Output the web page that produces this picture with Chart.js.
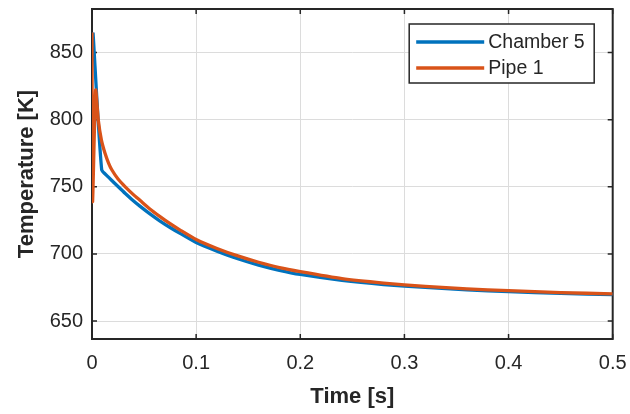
<!DOCTYPE html>
<html>
<head>
<meta charset="utf-8">
<script src="https://cdn.jsdelivr.net/npm/chart.js@4.4.0/dist/chart.umd.min.js"></script>
<style>
  html, body { margin: 0; padding: 0; background: #fff; }
  #wrap { width: 630px; height: 414px; }
</style>
</head>
<body>
<div id="wrap"><canvas id="tempChart" width="630" height="414"></canvas></div>
<script>
// data
const chamberTime = [0.001, 0.0093, 0.015, 0.02, 0.025, 0.032, 0.038, 0.046, 0.055, 0.065, 0.075, 0.085, 0.1, 0.12, 0.14, 0.16, 0.18, 0.2, 0.24, 0.28, 0.32, 0.36, 0.4, 0.45, 0.5];
const chamberTemp = [865, 762.7, 757.8, 754, 750.2, 745, 740.8, 735.6, 730.2, 724.7, 719.7, 715.1, 708.5, 702.1, 696.4, 691.7, 687.8, 684.7, 680.3, 677.2, 675, 673.2, 671.9, 670.6, 669.7];

const pipeTime = [0, 0.0005, 0.0035, 0.006, 0.009, 0.0125, 0.016, 0.019, 0.025, 0.0317, 0.04, 0.046, 0.055, 0.065, 0.075, 0.085, 0.1, 0.12, 0.14, 0.16, 0.18, 0.2, 0.24, 0.28, 0.32, 0.36, 0.4, 0.45, 0.5];
const pipeTemp = [865, 739, 822, 800, 785, 775, 767.5, 762.7, 755.8, 750.2, 744, 740, 733.9, 728, 722.5, 717.6, 710.8, 704.1, 698.5, 693.8, 689.8, 686.8, 681.6, 678.3, 675.8, 674, 672.6, 671.2, 670.2];

const xTicks = [0, 0.1, 0.2, 0.3, 0.4, 0.5];
const yTicks = [650, 700, 750, 800, 850];

const textColor = '#262626';
const fontFamily = '"Liberation Sans", Arial, sans-serif';

function toPoints(xs, ys) {
    return xs.map((x, i) => ({ x: x, y: ys[i] }));
}

// MATLAB style box, inward ticks and boxed legend
const matlabAxes = {
    id: 'matlabAxes',
    beforeDatasetsDraw(chart) {
        const ctx = chart.ctx;
        const a = chart.chartArea;
        const xs = chart.scales.x, ys = chart.scales.y;
        ctx.save();
        ctx.strokeStyle = textColor;
        ctx.lineWidth = 2;
        ctx.strokeRect(a.left, a.top, a.right - a.left, a.bottom - a.top);
        ctx.lineWidth = 1.5;
        ctx.beginPath();
        xs.ticks.forEach(t => {
            const px = xs.getPixelForValue(t.value);
            ctx.moveTo(px, a.bottom); ctx.lineTo(px, a.bottom - 5);
            ctx.moveTo(px, a.top); ctx.lineTo(px, a.top + 5);
        });
        ys.ticks.forEach(t => {
            const py = ys.getPixelForValue(t.value);
            ctx.moveTo(a.left, py); ctx.lineTo(a.left + 5, py);
            ctx.moveTo(a.right, py); ctx.lineTo(a.right - 5, py);
        });
        ctx.stroke();
        ctx.restore();
    },
    afterDatasetsDraw(chart) {
        const ctx = chart.ctx;
        const a = chart.chartArea;
        const boxW = 185, boxH = 59;
        const bx = a.right - 18.5 - boxW, by = a.top + 15;
        ctx.save();
        ctx.fillStyle = '#fff';
        ctx.fillRect(bx, by, boxW, boxH);
        ctx.strokeStyle = textColor;
        ctx.lineWidth = 1.5;
        ctx.strokeRect(bx, by, boxW, boxH);
        ctx.font = '19.5px ' + fontFamily;
        ctx.textBaseline = 'middle';
        chart.data.datasets.forEach((ds, i) => {
            const cy = by + 18 + i * 26;
            ctx.strokeStyle = ds.borderColor;
            ctx.lineWidth = 3.3;
            ctx.beginPath();
            ctx.moveTo(bx + 7, cy); ctx.lineTo(bx + 75, cy);
            ctx.stroke();
            ctx.fillStyle = textColor;
            ctx.fillText(ds.label, bx + 79, cy + 1);
        });
        ctx.restore();
    }
};

new Chart(document.getElementById('tempChart'), {
    type: 'line',
    data: {
        datasets: [
            {
                label: 'Chamber 5',
                data: toPoints(chamberTime, chamberTemp),
                borderColor: '#0072BD',
                borderWidth: 3.3,
                pointRadius: 0,
                tension: 0.2,
                order: 1,
                fill: false
            },
            {
                label: 'Pipe 1',
                data: toPoints(pipeTime, pipeTemp),
                borderColor: '#D95319',
                borderWidth: 3.3,
                pointRadius: 0,
                tension: 0.2,
                order: 0,
                fill: false
            }
        ]
    },
    options: {
        responsive: false,
        animation: false,
        layout: { padding: { top: 9, right: 17.3, left: 0, bottom: 0 } },
        plugins: {
            legend: { display: false },
            tooltip: { enabled: false }
        },
        scales: {
            x: {
                type: 'linear',
                min: 0,
                max: 0.5,
                afterBuildTicks: s => { s.ticks = xTicks.map(v => ({ value: v })); },
                afterFit: s => { s.height = 75; s.paddingLeft = 0; s.paddingRight = 0; },
                grid: { color: '#dcdcdc', lineWidth: 1, drawTicks: false },
                border: { display: false },
                ticks: {
                    color: textColor,
                    padding: 12,
                    maxRotation: 0,
                    font: { family: fontFamily, size: 20 },
                    callback: v => String(v)
                },
                title: {
                    display: true,
                    text: 'Time [s]',
                    color: textColor,
                    padding: { top: 0, bottom: 4 },
                    font: { family: fontFamily, size: 22, weight: 'bold' }
                }
            },
            y: {
                min: 636.6,
                max: 882.5,
                afterBuildTicks: s => { s.ticks = yTicks.map(v => ({ value: v })); },
                afterFit: s => { s.width = 92; s.paddingTop = 0; s.paddingBottom = 0; },
                grid: { color: '#dcdcdc', lineWidth: 1, drawTicks: false },
                border: { display: false },
                ticks: {
                    color: textColor,
                    padding: 9,
                    font: { family: fontFamily, size: 20 }
                },
                title: {
                    display: true,
                    text: 'Temperature [K]',
                    color: textColor,
                    padding: { top: 14, bottom: 0 },
                    font: { family: fontFamily, size: 22, weight: 'bold' }
                }
            }
        }
    },
    plugins: [matlabAxes]
});
</script>
</body>
</html>
